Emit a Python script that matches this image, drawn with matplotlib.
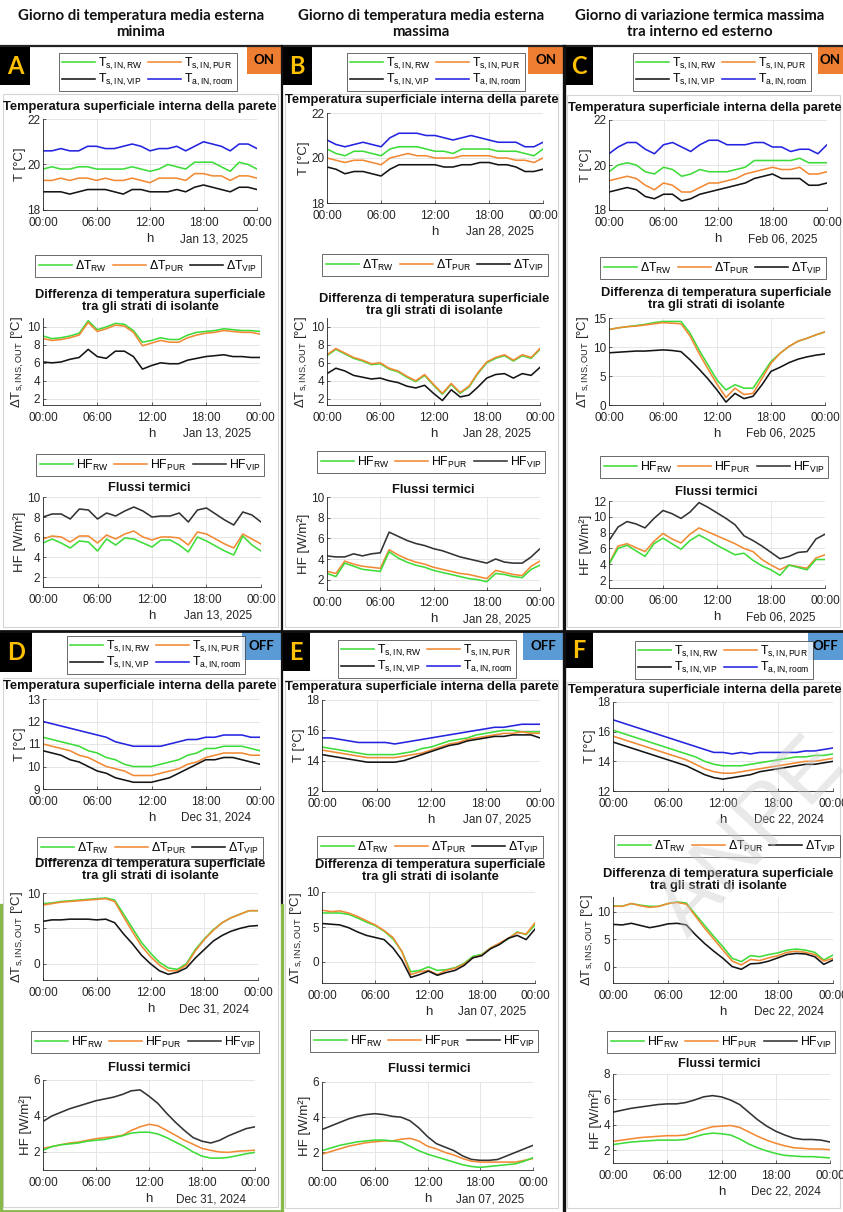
import matplotlib
matplotlib.use('Agg')
import matplotlib.pyplot as plt
from matplotlib import font_manager
from matplotlib.lines import Line2D
from matplotlib.patches import Rectangle

# ---------------- DATA (hourly values, 00:00 .. 24:00) ----------------
HOURS = list(range(25))
XTICKS = [0, 6, 12, 18, 24]
XTICKLABELS = ['00:00', '06:00', '12:00', '18:00', '00:00']

COL_TITLES = ['Giorno di temperatura media esterna\nminima',
              'Giorno di temperatura media esterna\nmassima',
              'Giorno di variazione termica massima\ntra interno ed esterno']
PANEL_LETTERS = ['A', 'B', 'C', 'D', 'E', 'F']
PANEL_MODES = ['ON', 'ON', 'ON', 'OFF', 'OFF', 'OFF']
PANEL_DATES = ['Jan 13, 2025', 'Jan 28, 2025', 'Feb 06, 2025',
               'Dec 31, 2024', 'Jan 07, 2025', 'Dec 22, 2024']

T_LABELS = ['T$_{s,IN,RW}$', 'T$_{s,IN,VIP}$', 'T$_{s,IN,PUR}$', 'T$_{a,IN,room}$']
DT_LABELS = ['ΔT$_{RW}$', 'ΔT$_{PUR}$', 'ΔT$_{VIP}$']
HF_LABELS = ['HF$_{RW}$', 'HF$_{PUR}$', 'HF$_{VIP}$']

# Panel A - Jan 13, 2025
A_T_RW = [19.8,19.9,19.8,19.8,19.9,19.9,19.8,19.8,19.8,19.8,19.9,19.8,19.7,19.8,20.0,19.9,19.8,20.1,20.1,20.1,19.9,19.7,20.1,20.0,19.8]
A_T_PUR = [19.3,19.3,19.4,19.3,19.4,19.4,19.3,19.4,19.3,19.3,19.4,19.3,19.2,19.4,19.4,19.4,19.3,19.6,19.6,19.5,19.5,19.3,19.5,19.5,19.4]
A_T_VIP = [18.8,18.8,18.8,18.7,18.8,18.9,18.9,18.9,18.8,18.7,18.9,18.9,18.8,18.8,18.8,18.9,18.8,19.0,19.1,19.0,18.9,18.8,19.0,19.0,18.9]
A_T_ROOM = [20.6,20.6,20.7,20.6,20.6,20.8,20.8,20.7,20.7,20.8,20.9,20.8,20.6,20.7,20.7,20.8,20.6,20.8,21.0,20.9,20.8,20.6,20.9,20.9,20.7]
A_DT_RW = [9.0,8.7,8.8,9.0,9.3,10.7,9.7,10.0,10.4,10.3,9.6,8.3,8.5,8.8,8.6,8.6,9.1,9.4,9.5,9.6,9.8,9.7,9.6,9.6,9.5]
A_DT_PUR = [8.7,8.5,8.6,8.8,9.1,10.5,9.5,9.8,10.2,10.1,9.4,7.9,8.2,8.5,8.3,8.3,8.8,9.1,9.3,9.4,9.6,9.5,9.4,9.4,9.2]
A_DT_VIP = [6.1,6.0,6.1,6.4,6.6,7.5,6.7,6.5,7.3,7.3,6.7,5.3,5.7,6.0,5.9,5.9,6.3,6.5,6.7,6.8,6.9,6.7,6.7,6.6,6.6]
A_HF_RW = [5.4,5.8,5.4,4.9,5.6,5.5,4.6,5.8,5.2,5.9,5.8,5.4,5.0,5.7,5.7,5.2,4.5,6.0,5.6,5.1,4.6,4.2,6.1,5.2,4.6]
A_HF_PUR = [5.8,6.1,6.0,5.5,6.1,6.1,5.4,6.2,5.8,6.3,6.6,6.0,5.7,6.0,6.0,5.9,5.2,6.5,6.3,5.8,5.3,4.9,6.3,5.8,5.3]
A_HF_VIP = [8.0,8.3,8.3,7.8,8.8,8.7,7.8,8.4,8.1,8.6,9.0,8.6,8.0,8.1,8.1,8.4,7.5,8.7,8.9,8.3,7.7,7.2,8.5,8.2,7.5]

# Panel B - Jan 28, 2025
B_T_RW = [20.4,20.2,20.1,20.3,20.3,20.2,20.1,20.4,20.5,20.5,20.5,20.4,20.3,20.3,20.2,20.4,20.4,20.4,20.4,20.3,20.3,20.3,20.2,20.1,20.4]
B_T_PUR = [20.0,19.9,19.8,19.9,19.9,19.8,19.7,20.0,20.1,20.2,20.1,20.1,20.0,20.0,20.0,20.1,20.1,20.1,20.1,20.0,20.0,19.9,19.9,19.8,20.0]
B_T_VIP = [19.6,19.5,19.3,19.4,19.4,19.3,19.2,19.5,19.7,19.7,19.7,19.7,19.7,19.6,19.6,19.7,19.7,19.8,19.8,19.7,19.7,19.6,19.4,19.4,19.5]
B_T_ROOM = [20.8,20.6,20.5,20.6,20.7,20.6,20.5,20.9,21.1,21.1,21.1,21.0,21.0,20.9,20.8,20.9,21.0,20.9,20.8,20.7,20.7,20.7,20.5,20.5,20.7]
B_DT_RW = [6.8,7.5,7.0,6.5,6.2,5.8,5.9,5.3,5.0,4.4,3.9,4.6,3.5,2.5,3.6,2.6,3.3,4.8,6.0,6.5,6.8,6.2,6.8,6.5,7.5]
B_DT_PUR = [6.9,7.6,7.1,6.6,6.3,5.9,6.0,5.4,5.1,4.5,4.0,4.7,3.6,2.6,3.7,2.7,3.4,4.9,6.1,6.6,6.9,6.3,6.9,6.6,7.6]
B_DT_VIP = [4.8,5.4,5.1,4.6,4.4,4.2,4.3,4.0,3.8,3.4,3.2,3.5,2.6,1.8,3.0,2.2,2.4,3.3,4.3,4.7,4.8,4.3,4.8,4.6,5.5]
B_HF_RW = [2.6,2.3,3.6,3.3,3.0,2.9,2.8,4.7,4.1,3.7,3.4,3.2,2.9,2.7,2.5,2.3,2.1,2.0,1.8,2.6,2.5,2.3,2.2,3.0,3.4]
B_HF_PUR = [2.8,2.6,3.8,3.5,3.3,3.2,3.1,4.9,4.4,4.0,3.7,3.5,3.2,3.0,2.8,2.6,2.5,2.3,2.1,2.9,2.7,2.5,2.4,3.3,3.8]
B_HF_VIP = [4.3,4.2,4.2,4.5,4.3,4.5,4.6,6.6,6.2,5.8,5.5,5.3,5.0,4.8,4.5,4.2,4.0,3.8,3.6,4.0,3.7,3.6,3.6,4.2,5.0]

# Panel C - Feb 06, 2025
C_T_RW = [19.7,20.0,20.1,20.0,19.7,19.6,19.9,19.8,19.5,19.6,19.8,19.7,19.7,19.7,19.8,19.9,20.2,20.2,20.2,20.2,20.2,20.3,20.1,20.1,20.1]
C_T_PUR = [19.3,19.4,19.5,19.4,19.1,18.9,19.2,19.1,18.8,18.8,19.0,19.2,19.2,19.3,19.4,19.6,19.7,19.8,19.9,19.8,19.8,19.9,19.6,19.6,19.7]
C_T_VIP = [18.8,18.9,19.0,18.9,18.6,18.5,18.7,18.7,18.4,18.5,18.7,18.8,18.9,19.0,19.1,19.2,19.4,19.5,19.6,19.4,19.4,19.4,19.1,19.1,19.2]
C_T_ROOM = [20.5,20.8,21.0,21.0,20.7,20.5,20.9,21.0,20.8,20.6,20.9,21.1,21.1,20.9,20.9,20.9,21.0,21.0,20.8,20.8,20.6,20.7,20.7,20.5,20.9]
C_DT_RW = [13.0,13.3,13.5,13.7,13.9,14.2,14.4,14.4,14.4,12.4,9.5,6.9,4.3,2.6,3.5,2.9,2.9,5.2,7.5,8.9,10.1,11.0,11.5,12.1,12.6]
C_DT_PUR = [13.0,13.3,13.5,13.6,13.8,14.0,14.2,14.1,14.0,11.9,8.9,6.2,3.6,1.3,2.9,1.8,2.0,4.6,7.2,8.9,10.1,11.0,11.5,12.1,12.6]
C_DT_VIP = [9.0,9.1,9.2,9.3,9.3,9.4,9.5,9.4,9.2,7.8,6.2,4.5,2.6,0.5,2.0,1.1,1.5,3.5,5.8,6.5,7.3,7.9,8.3,8.6,8.8]
C_HF_RW = [4.0,6.0,6.4,5.7,5.0,6.6,7.3,6.6,5.9,7.0,7.7,7.1,6.4,5.8,5.2,5.4,4.5,3.8,3.3,2.6,3.9,3.6,3.3,4.6,4.6]
C_HF_PUR = [4.1,6.3,6.6,6.1,5.6,6.9,7.9,7.2,6.7,7.8,8.6,8.1,7.6,7.1,6.6,6.0,5.6,4.6,3.9,3.3,3.9,3.7,3.5,4.8,5.2]
C_HF_VIP = [7.0,8.7,9.4,9.1,8.6,9.8,10.8,10.4,9.8,10.6,11.8,11.2,10.5,9.8,9.0,7.6,7.0,6.3,5.5,4.7,5.0,5.5,5.6,7.2,7.8]

# Panel D - Dec 31, 2024
D_T_RW = [11.3,11.2,11.1,11.0,10.9,10.7,10.6,10.4,10.3,10.1,10.0,10.0,10.0,10.1,10.2,10.3,10.5,10.6,10.8,10.8,10.9,10.9,10.9,10.8,10.7]
D_T_PUR = [11.0,10.9,10.8,10.7,10.5,10.4,10.2,10.0,9.9,9.8,9.6,9.6,9.6,9.7,9.8,9.9,10.1,10.2,10.4,10.5,10.6,10.6,10.6,10.5,10.5]
D_T_VIP = [10.7,10.6,10.5,10.3,10.2,10.0,9.8,9.7,9.5,9.4,9.3,9.3,9.3,9.4,9.5,9.7,9.9,10.1,10.3,10.3,10.4,10.4,10.3,10.2,10.1]
D_T_ROOM = [12.0,11.9,11.8,11.7,11.6,11.5,11.4,11.3,11.1,11.0,10.9,10.9,10.9,10.9,11.0,11.1,11.2,11.2,11.3,11.3,11.4,11.4,11.4,11.3,11.3]
D_DT_RW = [8.5,8.6,8.8,8.9,9.0,9.1,9.2,9.3,9.0,7.0,5.0,3.0,1.5,0.2,-0.6,-0.8,0.0,2.0,3.5,4.8,5.8,6.5,7.0,7.5,7.5]
D_DT_PUR = [8.3,8.5,8.7,8.8,8.9,9.0,9.1,9.2,8.8,6.6,4.5,2.5,1.0,-0.2,-1.0,-1.0,-0.2,1.8,3.4,4.7,5.8,6.5,7.0,7.5,7.5]
D_DT_VIP = [6.0,6.2,6.2,6.3,6.3,6.3,6.2,6.3,5.8,4.2,2.8,1.2,0.0,-1.0,-1.5,-1.2,-0.6,0.8,2.0,3.2,4.0,4.6,5.0,5.3,5.4]
D_HF_RW = [2.1,2.3,2.4,2.45,2.5,2.6,2.65,2.7,2.8,2.9,3.05,3.1,3.1,3.0,2.8,2.55,2.3,2.0,1.77,1.66,1.66,1.7,1.8,1.9,1.98]
D_HF_PUR = [2.2,2.3,2.4,2.5,2.55,2.65,2.74,2.8,2.85,2.93,3.2,3.4,3.54,3.46,3.2,2.93,2.65,2.43,2.2,2.09,2.0,1.98,2.04,2.07,2.1]
D_HF_VIP = [3.7,4.0,4.2,4.4,4.55,4.7,4.85,4.95,5.05,5.2,5.4,5.45,5.1,4.7,4.15,3.65,3.2,2.8,2.6,2.5,2.65,2.9,3.1,3.3,3.4]

# Panel E - Jan 07, 2025
E_T_RW = [14.9,14.8,14.7,14.6,14.5,14.4,14.4,14.4,14.4,14.5,14.6,14.8,14.9,15.1,15.3,15.4,15.5,15.7,15.8,15.9,16.0,16.0,15.9,15.9,15.9]
E_T_PUR = [14.7,14.6,14.5,14.4,14.3,14.2,14.2,14.2,14.2,14.3,14.4,14.5,14.7,14.9,15.1,15.2,15.4,15.5,15.6,15.7,15.8,15.8,15.9,15.8,15.8]
E_T_VIP = [14.4,14.3,14.2,14.1,14.0,13.9,13.9,13.9,13.9,14.0,14.2,14.4,14.6,14.8,15.0,15.1,15.3,15.4,15.5,15.6,15.6,15.7,15.7,15.7,15.5]
E_T_ROOM = [15.5,15.5,15.4,15.3,15.2,15.2,15.2,15.2,15.1,15.2,15.3,15.4,15.5,15.6,15.7,15.8,15.9,16.0,16.1,16.2,16.2,16.3,16.4,16.4,16.4]
E_DT_RW = [7.0,7.0,7.0,6.8,6.3,5.7,5.2,4.4,3.3,1.5,-1.4,-1.2,-0.7,-1.2,-1.1,-0.8,-0.2,0.8,1.1,2.0,2.6,3.3,4.3,3.9,5.3]
E_DT_PUR = [7.4,7.2,7.3,7.0,6.5,5.9,5.3,4.5,3.5,1.5,-1.8,-1.4,-1.2,-1.8,-1.2,-0.9,-0.3,0.6,1.0,2.0,2.7,3.4,4.2,4.0,5.6]
E_DT_VIP = [5.5,5.4,5.3,4.9,4.3,3.8,3.5,3.2,2.0,0.3,-2.2,-1.8,-1.3,-1.9,-1.5,-1.2,-0.5,0.6,0.9,1.9,2.5,3.4,3.8,3.2,4.7]
E_HF_RW = [2.1,2.25,2.4,2.5,2.6,2.65,2.7,2.7,2.65,2.6,2.35,2.1,1.9,1.75,1.6,1.45,1.3,1.2,1.15,1.2,1.25,1.3,1.35,1.5,1.7]
E_HF_PUR = [1.9,2.05,2.2,2.35,2.45,2.55,2.6,2.65,2.65,2.75,2.8,2.65,2.35,2.2,2.0,1.85,1.65,1.5,1.45,1.45,1.45,1.45,1.45,1.55,1.65]
E_HF_VIP = [3.3,3.5,3.7,3.9,4.05,4.15,4.2,4.15,4.05,4.0,3.8,3.4,2.9,2.5,2.3,2.1,1.8,1.6,1.55,1.55,1.6,1.8,2.0,2.2,2.4]

# Panel F - Dec 22, 2024
F_T_RW = [16.1,15.9,15.7,15.5,15.3,15.1,14.9,14.7,14.5,14.3,14.0,13.8,13.7,13.7,13.7,13.8,13.9,14.0,14.1,14.2,14.3,14.3,14.4,14.4,14.5]
F_T_PUR = [15.7,15.5,15.3,15.1,14.9,14.7,14.5,14.3,14.1,13.8,13.5,13.3,13.2,13.2,13.3,13.4,13.5,13.6,13.7,13.8,13.9,14.0,14.0,14.1,14.2]
F_T_VIP = [15.3,15.1,14.9,14.7,14.5,14.3,14.1,13.9,13.7,13.4,13.1,12.9,12.8,12.9,13.0,13.1,13.3,13.4,13.5,13.6,13.7,13.8,13.8,13.9,14.0]
F_T_ROOM = [16.8,16.6,16.4,16.2,16.0,15.8,15.6,15.4,15.2,15.0,14.8,14.6,14.6,14.5,14.6,14.5,14.6,14.6,14.6,14.6,14.6,14.7,14.7,14.8,14.9]
F_DT_RW = [11.1,11.0,11.5,11.2,11.0,11.0,11.5,11.8,11.6,9.5,7.5,5.5,3.6,1.5,0.9,2.0,1.8,2.2,2.5,3.0,3.2,3.0,2.6,1.2,2.1]
F_DT_PUR = [11.0,11.0,11.5,11.1,10.8,11.0,11.5,11.7,11.4,9.2,7.0,5.0,3.0,1.0,0.3,1.3,1.1,1.6,2.0,2.6,2.8,2.6,2.2,1.0,1.5]
F_DT_VIP = [7.7,7.6,7.9,7.5,7.1,7.4,7.8,7.9,7.6,5.8,4.2,2.8,1.5,0.0,-0.5,0.5,0.6,1.0,1.6,2.2,2.4,2.3,1.8,0.4,1.2]
F_HF_RW = [2.45,2.55,2.65,2.7,2.75,2.8,2.8,2.8,2.85,3.05,3.25,3.35,3.3,3.2,2.9,2.5,2.2,1.95,1.75,1.6,1.55,1.5,1.5,1.45,1.4]
F_HF_PUR = [2.7,2.8,2.9,3.0,3.05,3.1,3.15,3.15,3.2,3.4,3.65,3.85,3.9,3.95,3.8,3.45,3.1,2.8,2.55,2.35,2.2,2.15,2.1,2.1,2.05]
F_HF_VIP = [5.0,5.15,5.3,5.4,5.5,5.6,5.65,5.65,5.75,5.95,6.2,6.3,6.2,5.95,5.6,5.0,4.4,3.9,3.5,3.2,2.95,2.85,2.85,2.8,2.65]

# ---------------- STYLE ----------------
names = {f.name for f in font_manager.fontManager.ttflist}
SANS = 'Liberation Sans Narrow' if 'Liberation Sans Narrow' in names else 'Liberation Sans'
HEAD = 'Lato' if 'Lato' in names else 'DejaVu Sans'
plt.rcParams['font.family'] = [SANS, 'DejaVu Sans']
plt.rcParams['mathtext.fontset'] = 'custom'
plt.rcParams['mathtext.rm'] = SANS
plt.rcParams['mathtext.it'] = SANS
plt.rcParams['mathtext.default'] = 'regular'

GREEN = '#3EDC3A'
ORANGE = '#F28A35'
BLUE = '#2424E0'
BLACK = '#151515'
GRAY_VIP = '#333333'
AXC = '#262626'

W, H = 843, 1212
fig = plt.figure(figsize=(W / 100, H / 100), dpi=100)
fig.patch.set_facecolor('white')

bg = fig.add_axes([0, 0, 1, 1], zorder=-5)
bg.set_xlim(0, W)
bg.set_ylim(H, 0)
bg.axis('off')


def fx(x):
    return x / W


def fy(y):
    return 1 - y / H


def draw_axes(rect, ylim, yticks, ylabel, series, title, title_cx, title_cy, date, title_size=9.3):
    x0, y0, x1, y1 = rect
    ax = fig.add_axes([fx(x0), fy(y1), (x1 - x0) / W, (y1 - y0) / H])
    for vals, col in series:
        ax.plot(HOURS, vals, color=col, lw=1.15)
    ax.set_xlim(0, 24)
    ax.set_xticks(XTICKS)
    ax.set_xticklabels(XTICKLABELS)
    ax.set_ylim(*ylim)
    ax.set_yticks(yticks)
    ax.grid(True, color='#e2e2e2', lw=0.6)
    ax.set_axisbelow(True)
    for s in ['top', 'right']:
        ax.spines[s].set_visible(False)
    for s in ['left', 'bottom']:
        ax.spines[s].set_color(AXC)
        ax.spines[s].set_linewidth(0.6)
    ax.tick_params(direction='in', length=2.5, width=0.5, labelsize=8.5, colors=AXC)
    ax.tick_params(axis='x', pad=5)
    ax.tick_params(axis='y', pad=2)
    ax.set_ylabel(ylabel, fontsize=9.5, color=AXC, labelpad=1)
    fig.text(fx(title_cx), fy(title_cy), title, ha='center', va='center',
             fontsize=title_size, weight='bold', color='#111111', linespacing=1.05)
    fig.text(fx((x0 + x1) / 2), fy(y1 + 29), 'h', ha='center', va='center', fontsize=9.5, color=AXC)
    fig.text(fx(x1 - 9), fy(y1 + 29), date, ha='right', va='center', fontsize=8.5, color=AXC)
    return ax


def add_legend(ax, colors, labels, center, ncol):
    handles = [Line2D([], [], color=c, lw=1.15) for c in colors]
    leg = ax.legend(handles, labels, loc='center', bbox_to_anchor=(fx(center[0]), fy(center[1])),
                    bbox_transform=fig.transFigure, ncol=ncol, frameon=True, fancybox=False,
                    edgecolor=AXC, fontsize=8.8, handlelength=2.7, handletextpad=0.25,
                    columnspacing=0.5, borderpad=0.25, labelspacing=0.05, borderaxespad=0)
    leg.get_frame().set_linewidth(0.6)
    leg.set_zorder(20)
    return leg


T_TITLE = 'Temperatura superficiale interna della parete'
DT_TITLE = 'Differenza di temperatura superficiale\ntra gli strati di isolante'
HF_TITLE = 'Flussi termici'
T_YL = 'T [°C]'
DT_YL = 'ΔT$_{s,INS,OUT}$ [°C]'
HF_YL = 'HF [W/m²]'

PANELS = [
    dict(T=(A_T_RW, A_T_PUR, A_T_VIP, A_T_ROOM), DT=(A_DT_RW, A_DT_PUR, A_DT_VIP), HF=(A_HF_RW, A_HF_PUR, A_HF_VIP),
         t_rect=(43, 119, 257, 210), t_ylim=(18, 22), t_ticks=[18, 20, 22], t_title=(140, 107), t_leg=(148, 72),
         dt_rect=(43, 318, 260, 405), dt_ylim=(1.3, 11), dt_ticks=[2, 4, 6, 8, 10], dt_title=(150, 301), dt_leg=(148, 266),
         hf_rect=(43, 497, 261, 587), hf_ylim=(1, 10), hf_ticks=[2, 4, 6, 8, 10], hf_title=(149, 488), hf_leg=(150, 465)),
    dict(T=(B_T_RW, B_T_PUR, B_T_VIP, B_T_ROOM), DT=(B_DT_RW, B_DT_PUR, B_DT_VIP), HF=(B_HF_RW, B_HF_PUR, B_HF_VIP),
         t_rect=(327, 113, 543, 203), t_ylim=(18, 22), t_ticks=[18, 20, 22], t_title=(422, 100), t_leg=(436, 72),
         dt_rect=(327, 318, 540, 405), dt_ylim=(1.3, 11), dt_ticks=[2, 4, 6, 8, 10], dt_title=(434, 305), dt_leg=(435, 265),
         hf_rect=(327, 497, 540, 590), hf_ylim=(1, 10), hf_ticks=[2, 4, 6, 8, 10], hf_title=(433, 490), hf_leg=(431, 462)),
    dict(T=(C_T_RW, C_T_PUR, C_T_VIP, C_T_ROOM), DT=(C_DT_RW, C_DT_PUR, C_DT_VIP), HF=(C_HF_RW, C_HF_PUR, C_HF_VIP),
         t_rect=(609, 120, 827, 210), t_ylim=(18, 22), t_ticks=[18, 20, 22], t_title=(705, 108), t_leg=(722, 72),
         dt_rect=(609, 318, 825, 405), dt_ylim=(0, 15), dt_ticks=[0, 5, 10, 15], dt_title=(716, 299), dt_leg=(713, 268),
         hf_rect=(609, 501, 825, 588), hf_ylim=(1, 12), hf_ticks=[2, 4, 6, 8, 10, 12], hf_title=(716, 492), hf_leg=(714, 467)),
    dict(T=(D_T_RW, D_T_PUR, D_T_VIP, D_T_ROOM), DT=(D_DT_RW, D_DT_PUR, D_DT_VIP), HF=(D_HF_RW, D_HF_PUR, D_HF_VIP),
         t_rect=(43, 699, 260, 789), t_ylim=(9, 13), t_ticks=[9, 10, 11, 12, 13], t_title=(140, 686), t_leg=(156, 655),
         dt_rect=(43, 893, 258, 980), dt_ylim=(-2.3, 10), dt_ticks=[0, 5, 10], dt_title=(150, 870), dt_leg=(150, 848),
         hf_rect=(43, 1080, 255, 1170), hf_ylim=(1, 6), hf_ticks=[2, 4, 6], hf_title=(149, 1068), hf_leg=(145, 1042)),
    dict(T=(E_T_RW, E_T_PUR, E_T_VIP, E_T_ROOM), DT=(E_DT_RW, E_DT_PUR, E_DT_VIP), HF=(E_HF_RW, E_HF_PUR, E_HF_VIP),
         t_rect=(322, 700, 540, 791), t_ylim=(12, 18), t_ticks=[12, 14, 16, 18], t_title=(422, 687), t_leg=(427, 659),
         dt_rect=(322, 892, 535, 983), dt_ylim=(-3, 10), dt_ticks=[0, 5, 10], dt_title=(430, 871), dt_leg=(430, 847),
         hf_rect=(322, 1082, 533, 1170), hf_ylim=(1, 6), hf_ticks=[2, 4, 6], hf_title=(429, 1069), hf_leg=(424, 1041)),
    dict(T=(F_T_RW, F_T_PUR, F_T_VIP, F_T_ROOM), DT=(F_DT_RW, F_DT_PUR, F_DT_VIP), HF=(F_HF_RW, F_HF_PUR, F_HF_VIP),
         t_rect=(613, 702, 833, 791), t_ylim=(12, 18), t_ticks=[12, 14, 16, 18], t_title=(705, 690), t_leg=(724, 660),
         dt_rect=(613, 897, 833, 983), dt_ylim=(-3, 12.7), dt_ticks=[0, 5, 10], dt_title=(718, 880), dt_leg=(727, 846),
         hf_rect=(613, 1074, 830, 1163), hf_ylim=(1, 8), hf_ticks=[2, 4, 6, 8], hf_title=(719, 1064), hf_leg=(721, 1042)),
]

# ---------------- FRAMES & DECORATION ----------------
LGREEN = '#86B84A'
for (x0, y0, x1, y1) in [(3, 94, 278, 627), (285, 94, 558, 627), (567, 95, 840, 627),
                         (3, 678, 278, 1207), (285, 680, 558, 1208), (567, 682, 840, 1208)]:
    bg.add_patch(Rectangle((x0, y0), x1 - x0, y1 - y0, fill=False, ec='#d4d4d4', lw=0.8))
bg.plot([0, W], [46, 46], color='#222222', lw=1.6)
bg.plot([0, W], [630.5, 630.5], color='#111111', lw=2.0)
bg.plot([281.5, 281.5], [46, 905], color='#111111', lw=1.6)
bg.plot([281.5, 281.5], [905, H], color=LGREEN, lw=2.4)
bg.plot([1.2, 1.2], [905, H], color=LGREEN, lw=2.4)
bg.plot([0, 281.5], [1210.5, 1210.5], color=LGREEN, lw=2.0)
bg.plot([564, 564], [46, H], color='#111111', lw=2.4)

LETTER_BOXES = [(0, 47, 30, 85), (281, 47, 312, 85), (564, 47, 593, 85),
                (0, 632, 32, 672), (282, 632, 310, 671), (565, 631, 593, 668)]
MODE_BOXES = [(247, 47, 281, 74), (528, 47, 563, 74), (818, 47, 843, 74),
              (242, 632, 281, 660), (523, 632, 563, 660), (808, 632, 843, 660)]
for letter, mode, lb, mb in zip(PANEL_LETTERS, PANEL_MODES, LETTER_BOXES, MODE_BOXES):
    bg.add_patch(Rectangle((lb[0], lb[1]), lb[2] - lb[0], lb[3] - lb[1], color='black', lw=0))
    bg.text((lb[0] + lb[2]) / 2, (lb[1] + lb[3]) / 2 + 1, letter, ha='center', va='center',
            color='#FFC000', fontsize=17, weight='bold', family=HEAD)
    col = '#ED7D31' if mode == 'ON' else '#5B9BD5'
    bg.add_patch(Rectangle((mb[0], mb[1]), mb[2] - mb[0], mb[3] - mb[1], color=col, lw=0))
    bg.text((mb[0] + mb[2]) / 2, (mb[1] + mb[3]) / 2, mode, ha='center', va='center',
            color='black', fontsize=9.5, weight='bold', family=HEAD)

for cx, txt in zip([141, 421, 700], COL_TITLES):
    fig.text(fx(cx), fy(24), txt, ha='center', va='center', fontsize=10.8, weight='bold',
             family=HEAD, color='#111111', linespacing=1.25)

# ---------------- PLOTS ----------------
for p, date in zip(PANELS, PANEL_DATES):
    rw, pur, vip, room = p['T']
    ax = draw_axes(p['t_rect'], p['t_ylim'], p['t_ticks'], T_YL,
                   [(room, BLUE), (rw, GREEN), (pur, ORANGE), (vip, BLACK)],
                   T_TITLE, p['t_title'][0], p['t_title'][1], date)
    add_legend(ax, [GREEN, BLACK, ORANGE, BLUE], T_LABELS, p['t_leg'], 2)

    rw, pur, vip = p['DT']
    ax = draw_axes(p['dt_rect'], p['dt_ylim'], p['dt_ticks'], DT_YL,
                   [(rw, GREEN), (pur, ORANGE), (vip, BLACK)],
                   DT_TITLE, p['dt_title'][0], p['dt_title'][1], date)
    add_legend(ax, [GREEN, ORANGE, BLACK], DT_LABELS, p['dt_leg'], 3)

    rw, pur, vip = p['HF']
    ax = draw_axes(p['hf_rect'], p['hf_ylim'], p['hf_ticks'], HF_YL,
                   [(vip, GRAY_VIP), (pur, ORANGE), (rw, GREEN)],
                   HF_TITLE, p['hf_title'][0], p['hf_title'][1], date)
    add_legend(ax, [GREEN, ORANGE, GRAY_VIP], HF_LABELS, p['hf_leg'], 3)

fig.text(fx(752), fy(838), 'ANPE', rotation=47, ha='center', va='center', fontsize=62,
         color='#c8c8c8', alpha=0.4, family='Liberation Sans', zorder=50)

fig.savefig('out.png', dpi=100, facecolor='white')
